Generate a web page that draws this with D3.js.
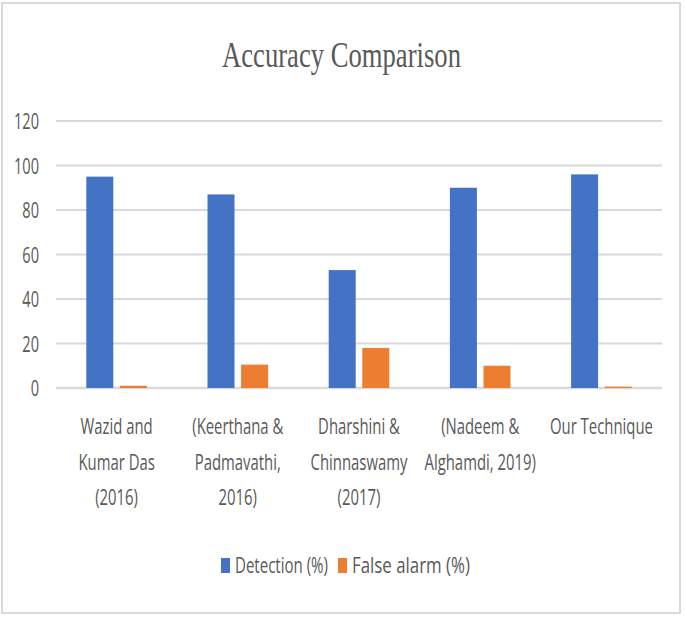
<!DOCTYPE html>
<html>
<head>
<meta charset="utf-8">
<script src="https://cdn.jsdelivr.net/npm/d3@7"></script>
<style>
  body { margin: 0; background: #fff; }
  svg { display: block; }
</style>
</head>
<body>
<div id="viz"></div>
<script>
var w = 685;
var h = 617;

// chart data
var categories = [
  ["Wazid and", "Kumar Das", "(2016)"],
  ["(Keerthana &", "Padmavathi,", "2016)"],
  ["Dharshini &", "Chinnaswamy", "(2017)"],
  ["(Nadeem &", "Alghamdi, 2019)"],
  ["Our Technique"]
];
var seriesNames = ["Detection (%)", "False alarm (%)"];
var detection = [95, 87, 53, 90, 96];
var falseAlarm = [1, 10.5, 18, 10, 0.6];
var yTicks = [0, 20, 40, 60, 80, 100, 120];

var colors = ["#4472c4", "#ed7d31"];
var textColor = "#595959";

var svg = d3.select("#viz")
    .append("svg")
    .attr("width", w)
    .attr("height", h);

// outer frame
svg.append("rect")
    .attr("x", 2).attr("y", 3)
    .attr("width", 678).attr("height", 610)
    .attr("fill", "#fff")
    .attr("stroke", "#d9d9d9")
    .attr("stroke-width", 2);

var plotLeft = 56, plotRight = 662, plotTop = 121, plotBottom = 388;

var x0 = d3.scaleBand()
    .domain(d3.range(categories.length))
    .range([plotLeft, plotRight])
    .paddingInner(0.5)
    .paddingOuter(0.25);

var x1 = d3.scaleBand()
    .domain([0, 1])
    .range([0, x0.bandwidth()])
    .paddingInner(0.196);

var y = d3.scaleLinear()
    .domain([0, 120])
    .range([plotBottom, plotTop]);

// horizontally squeezed text (the picture is narrow)
function squeezeFactor(font, size, sample, target) {
  var t = svg.append("text")
      .attr("font-family", font)
      .attr("font-size", size)
      .text(sample);
  var len = t.node().getComputedTextLength();
  t.remove();
  return target / len;
}

function addText(g, tx, ty, str, sx, anchor) {
  return g.append("text")
      .attr("transform", "translate(" + tx + "," + ty + ") scale(" + sx + ",1)")
      .attr("text-anchor", anchor)
      .attr("fill", textColor)
      .text(str);
}

var sansFont = "'Open Sans', sans-serif";

// title
var titleSx = squeezeFactor("'Liberation Serif', serif", 35, "Accuracy Comparison", 239);
var titleG = svg.append("g")
    .attr("font-family", "'Liberation Serif', serif")
    .attr("font-size", 35);
addText(titleG, 341.5, 67, "Accuracy Comparison", titleSx, "middle");

// gridlines
svg.append("g")
    .selectAll("line")
    .data(yTicks)
    .enter()
    .append("line")
    .attr("x1", plotLeft).attr("x2", plotRight)
    .attr("y1", function(d) { return y(d); })
    .attr("y2", function(d) { return y(d); })
    .attr("stroke", "#d9d9d9")
    .attr("stroke-width", function(d) { return d === 0 ? 2.5 : 2; });

// y axis labels
var axisSx = squeezeFactor(sansFont, 22, "120", 25);
var axisG = svg.append("g")
    .attr("font-family", sansFont)
    .attr("font-size", 22);
yTicks.forEach(function(d) {
  addText(axisG, 39, y(d) + 8, d, axisSx, "end");
});

// bars
var series = [detection, falseAlarm];
series.forEach(function(vals, s) {
  svg.append("g")
      .selectAll("rect")
      .data(vals)
      .enter()
      .append("rect")
      .attr("x", function(d, i) { return x0(i) + x1(s); })
      .attr("width", x1.bandwidth())
      .attr("y", function(d) { return y(d); })
      .attr("height", function(d) { return y(0) - y(d); })
      .attr("fill", colors[s]);
});

// category labels
var catSx = squeezeFactor(sansFont, 21, "Our Technique", 103);
var catG = svg.append("g")
    .attr("font-family", sansFont)
    .attr("font-size", 21);
categories.forEach(function(lines, i) {
  var cx = x0(i) + x0.bandwidth() / 2;
  lines.forEach(function(line, j) {
    addText(catG, cx, 434 + j * 35.5, line, catSx, "middle");
  });
});

// legend
var legG = svg.append("g")
    .attr("font-family", sansFont)
    .attr("font-size", 21);
var legX = [221, 338];
var legW = [93, 118];
seriesNames.forEach(function(name, s) {
  legG.append("rect")
      .attr("x", legX[s]).attr("y", 558)
      .attr("width", 9).attr("height", 15)
      .attr("fill", colors[s]);
  var sx = squeezeFactor(sansFont, 21, name, legW[s]);
  addText(legG, legX[s] + 14, 573, name, sx, "start");
});
</script>
</body>
</html>
